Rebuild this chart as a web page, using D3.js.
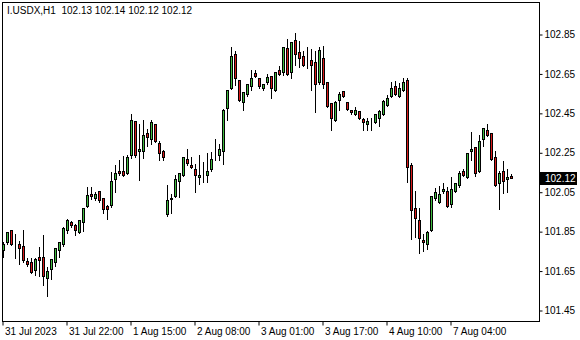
<!DOCTYPE html>
<html>
<head>
<meta charset="utf-8">
<script src="https://cdn.jsdelivr.net/npm/d3@7"></script>
<style>
  body { margin: 0; background: #fff; }
  svg { display: block; }
  text { font-family: "Liberation Sans", Arial, sans-serif; font-size: 10px; fill: #000; }
</style>
</head>
<body>
<div id="chart"></div>
<script>
const title = "I.USDX,H1  102.13 102.14 102.12 102.12";
const lastPrice = 102.12;

// hourly candles
const opens = [
  101.753, 101.794, 101.855, 101.795, 101.784, 101.774, 101.699, 101.696, 101.655, 101.719,
  101.719, 101.614, 101.658, 101.696, 101.753, 101.784, 101.855, 101.896, 101.879, 101.845,
  101.896, 101.977, 102.038, 102.018, 102.052, 102.018, 101.977, 101.984, 102.113, 102.157,
  102.157, 102.143, 102.235, 102.408, 102.255, 102.255, 102.350, 102.316, 102.394, 102.299,
  102.259, 101.937, 102.014, 102.028, 102.102, 102.136, 102.218, 102.187, 102.167, 102.123,
  102.146, 102.133, 102.163, 102.227, 102.235, 102.259, 102.476, 102.577, 102.747, 102.618,
  102.506, 102.547, 102.588, 102.652, 102.628, 102.577, 102.608, 102.638, 102.567, 102.669,
  102.659, 102.777, 102.659, 102.818, 102.757, 102.737, 102.690, 102.716, 102.706, 102.604,
  102.726, 102.608, 102.499, 102.415, 102.516, 102.560, 102.506, 102.466, 102.445, 102.458,
  102.418, 102.394, 102.414, 102.405, 102.425, 102.445, 102.492, 102.537, 102.588, 102.535,
  102.566, 102.618, 102.187, 101.967, 101.906, 101.804, 101.784, 101.855, 102.018, 101.998,
  102.052, 102.055, 101.987, 102.052, 102.082, 102.157, 102.123, 102.255, 102.279, 102.153,
  102.316, 102.364, 102.350, 102.228, 102.092, 102.157, 102.113, 102.13
];
const highs = [
  101.797, 101.848, 101.857, 101.838, 101.804, 101.857, 101.716, 101.716, 101.716, 101.774,
  101.835, 101.669, 101.711, 101.769, 101.797, 101.876, 101.913, 101.906, 101.889, 101.906,
  101.967, 102.075, 102.075, 102.052, 102.055, 102.021, 101.987, 102.150, 102.187, 102.214,
  102.232, 102.238, 102.445, 102.412, 102.394, 102.418, 102.370, 102.418, 102.396, 102.309,
  102.262, 102.089, 102.041, 102.136, 102.145, 102.230, 102.269, 102.228, 102.194, 102.238,
  102.201, 102.248, 102.252, 102.320, 102.293, 102.472, 102.567, 102.788, 102.767, 102.621,
  102.557, 102.598, 102.669, 102.672, 102.630, 102.598, 102.652, 102.640, 102.659, 102.689,
  102.786, 102.828, 102.810, 102.859, 102.818, 102.767, 102.788, 102.777, 102.767, 102.788,
  102.791, 102.611, 102.501, 102.513, 102.560, 102.562, 102.508, 102.468, 102.482, 102.460,
  102.427, 102.428, 102.428, 102.447, 102.466, 102.516, 102.543, 102.608, 102.615, 102.603,
  102.628, 102.628, 102.198, 102.055, 101.970, 101.838, 101.855, 102.030, 102.069, 102.082,
  102.096, 102.075, 102.126, 102.096, 102.157, 102.167, 102.250, 102.354, 102.281, 102.340,
  102.376, 102.397, 102.352, 102.259, 102.157, 102.208, 102.167, 102.14
];
const lows = [
  101.721, 101.789, 101.780, 101.716, 101.685, 101.696, 101.675, 101.638, 101.631, 101.624,
  101.577, 101.523, 101.611, 101.675, 101.723, 101.777, 101.845, 101.872, 101.835, 101.842,
  101.852, 101.974, 102.018, 102.008, 101.998, 101.943, 101.913, 101.974, 102.052, 102.136,
  102.130, 102.141, 102.224, 102.230, 102.113, 102.224, 102.286, 102.296, 102.303, 102.214,
  102.214, 101.930, 101.943, 102.025, 102.028, 102.133, 102.187, 102.171, 102.052, 102.092,
  102.102, 102.102, 102.160, 102.214, 102.214, 102.194, 102.415, 102.574, 102.594, 102.513,
  102.466, 102.537, 102.567, 102.635, 102.577, 102.567, 102.598, 102.527, 102.564, 102.647,
  102.647, 102.645, 102.628, 102.696, 102.686, 102.689, 102.679, 102.567, 102.455, 102.598,
  102.577, 102.482, 102.364, 102.411, 102.466, 102.533, 102.469, 102.448, 102.442, 102.421,
  102.364, 102.364, 102.367, 102.401, 102.384, 102.442, 102.486, 102.533, 102.543, 102.532,
  102.564, 102.102, 101.815, 101.821, 101.743, 101.753, 101.764, 101.853, 102.008, 101.994,
  102.045, 101.974, 101.977, 102.049, 102.075, 102.133, 102.121, 102.214, 102.133, 102.150,
  102.286, 102.334, 102.212, 102.080, 101.967, 102.045, 102.049, 102.12
];
const closes = [
  101.784, 101.845, 101.784, 101.794, 101.764, 101.706, 101.685, 101.645, 101.709, 101.706,
  101.624, 101.648, 101.709, 101.767, 101.794, 101.868, 101.906, 101.882, 101.855, 101.906,
  101.967, 102.031, 102.028, 102.038, 102.008, 101.960, 101.964, 102.106, 102.147, 102.143,
  102.136, 102.228, 102.415, 102.238, 102.269, 102.336, 102.326, 102.405, 102.306, 102.245,
  102.224, 102.008, 102.018, 102.116, 102.143, 102.228, 102.194, 102.177, 102.133, 102.136,
  102.147, 102.157, 102.218, 102.228, 102.269, 102.466, 102.567, 102.737, 102.628, 102.516,
  102.557, 102.598, 102.628, 102.638, 102.588, 102.598, 102.631, 102.577, 102.659, 102.649,
  102.784, 102.649, 102.808, 102.747, 102.726, 102.692, 102.689, 102.692, 102.598, 102.767,
  102.594, 102.486, 102.425, 102.506, 102.547, 102.537, 102.472, 102.452, 102.466, 102.425,
  102.405, 102.408, 102.415, 102.445, 102.458, 102.509, 102.527, 102.577, 102.547, 102.577,
  102.608, 102.174, 101.957, 101.916, 101.815, 101.794, 101.845, 102.028, 102.049, 102.038,
  102.065, 101.977, 102.065, 102.096, 102.147, 102.133, 102.248, 102.269, 102.143, 102.309,
  102.374, 102.336, 102.214, 102.082, 102.147, 102.102, 102.126, 102.12
];

const timeTickBars = [0, 16, 32, 48, 64, 80, 96, 112];
const timeTickLabels = ["31 Jul 2023", "31 Jul 22:00", "1 Aug 15:00", "2 Aug 08:00",
  "3 Aug 01:00", "3 Aug 17:00", "4 Aug 10:00", "7 Aug 04:00"];
const priceTicks = [101.45, 101.65, 101.85, 102.05, 102.25, 102.45, 102.65, 102.85];

const width = 580, height = 340;
const frame = {left: 2.5, top: 2.5, right: 539.5, bottom: 321.5};
const bull = "#3fbb3f", bear = "#d91a1a";

const candles = opens.map((o, i) => ({i, o, h: highs[i], l: lows[i], c: closes[i]}));

const svg = d3.select("#chart").append("svg")
    .attr("width", width)
    .attr("height", height);

const x = d3.scaleLinear()
    .domain([0, candles.length - 1])
    .range([3.5, 3.5 + 4 * (candles.length - 1)]);

const y = d3.scaleLinear()
    .domain([101.45, 102.85])
    .range([310.5, 34.5]);

const px = v => Math.round(v - 0.5) + 0.5;

// candles
const g = svg.append("g");

g.selectAll(".wick")
    .data(candles)
    .join("line")
    .attr("class", "wick")
    .attr("x1", d => x(d.i)).attr("x2", d => x(d.i))
    .attr("y1", d => Math.round(y(d.h))).attr("y2", d => Math.round(y(d.l)) + 1)
    .attr("stroke", "#000")
    .attr("stroke-width", 1);

g.selectAll(".body")
    .data(candles)
    .join("rect")
    .attr("class", "body")
    .attr("x", d => x(d.i) - 1)
    .attr("width", 2)
    .attr("y", d => px(y(Math.max(d.o, d.c))))
    .attr("height", d => Math.max(0, px(y(Math.min(d.o, d.c))) - px(y(Math.max(d.o, d.c)))))
    .attr("fill", d => d.c >= d.o ? bull : bear)
    .attr("stroke", "#000")
    .attr("stroke-width", 1)
    .attr("shape-rendering", "crispEdges");

// frame
svg.append("rect")
    .attr("x", frame.left).attr("y", frame.top)
    .attr("width", frame.right - frame.left)
    .attr("height", frame.bottom - frame.top)
    .attr("fill", "none")
    .attr("stroke", "#000")
    .attr("stroke-width", 1);

// price axis
const yAxis = d3.axisRight(y)
    .tickValues(priceTicks)
    .tickFormat(d3.format(".2f"))
    .tickSize(3)
    .tickPadding(2);

const yAxisGroup = svg.append("g")
    .attr("transform", "translate(" + frame.right + ",0)")
    .call(yAxis);
yAxisGroup.select(".domain").remove();

// current price tag
const tag = svg.append("g")
    .attr("transform", "translate(540," + Math.round(y(lastPrice)) + ")");
tag.append("rect")
    .attr("x", 0).attr("y", -6)
    .attr("width", 37).attr("height", 13)
    .attr("fill", "#000");
tag.append("text")
    .attr("x", 5).attr("y", 4)
    .style("fill", "#fff")
    .text(d3.format(".2f")(lastPrice));

// time axis
const xAxis = d3.axisBottom(x)
    .tickValues(timeTickBars)
    .tickFormat((d, i) => timeTickLabels[i])
    .tickSize(4)
    .tickPadding(2);

const xAxisGroup = svg.append("g")
    .attr("transform", "translate(0," + frame.bottom + ")")
    .call(xAxis);
xAxisGroup.select(".domain").remove();
xAxisGroup.selectAll(".tick line").attr("transform", "translate(-1,0)");
xAxisGroup.selectAll("text")
    .attr("text-anchor", "start")
    .attr("x", 1);

// header
svg.append("text")
    .attr("x", 7).attr("y", 14)
    .attr("xml:space", "preserve")
    .text(title);
</script>
</body>
</html>
